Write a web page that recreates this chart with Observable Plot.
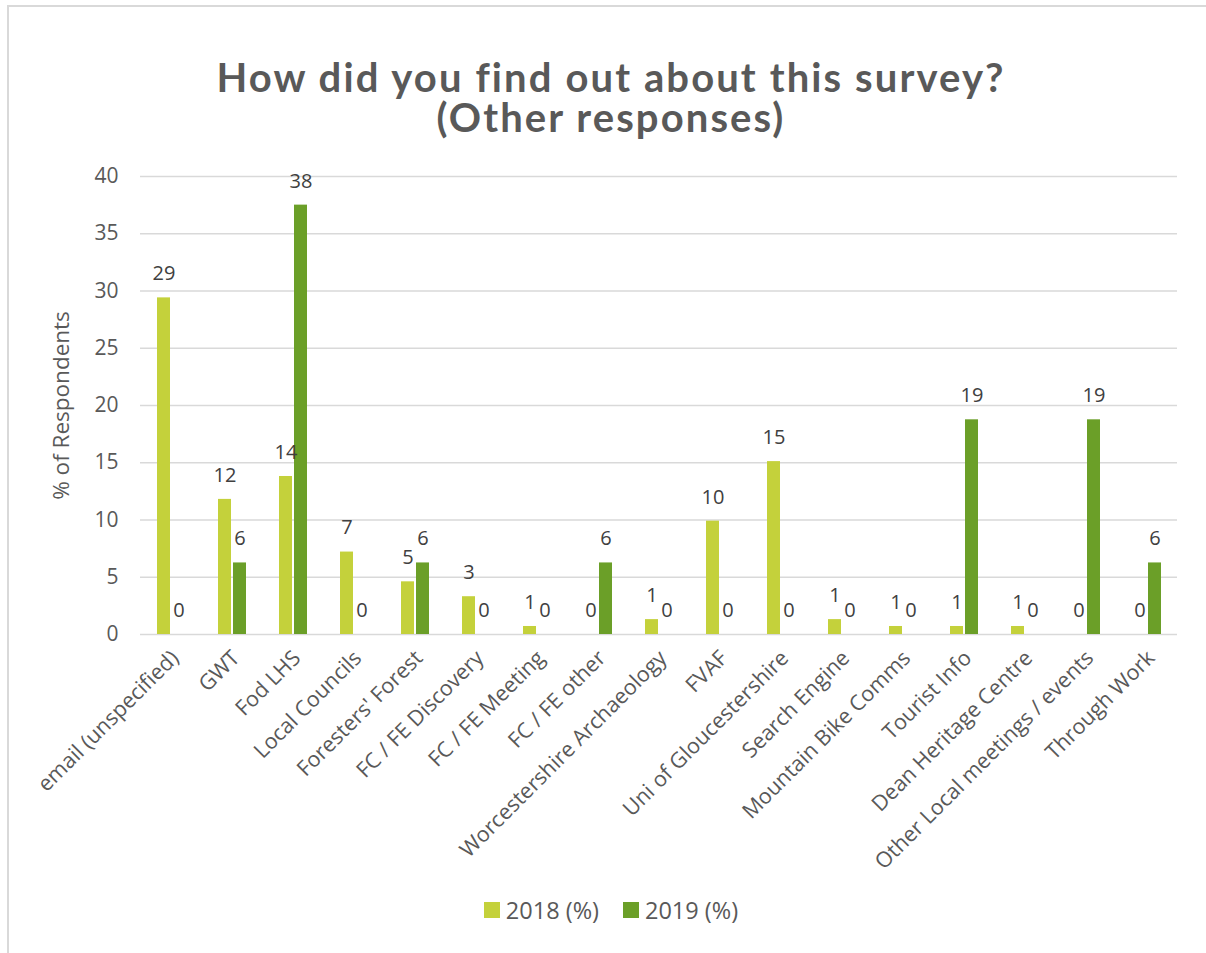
<!DOCTYPE html>
<html>
<head>
<meta charset="utf-8">
<script src="https://cdn.jsdelivr.net/npm/d3@7"></script>
<script src="https://cdn.jsdelivr.net/npm/@observablehq/plot@0.6"></script>
<style>
  html, body { margin: 0; padding: 0; background: #fff; width: 1206px; height: 953px; overflow: hidden; }
  #frame { position: absolute; left: 7px; top: 5px; width: 1300px; height: 1100px;
           border-top: 2px solid #d9d9d9; border-left: 2px solid #d9d9d9; box-sizing: border-box; pointer-events: none; }
  #wrap { position: relative; width: 1206px; }
  #title { height: 150px; box-sizing: border-box; padding-top: 57px; text-align: center; width: 1222px;
           font-family: Lato, "Open Sans", sans-serif; font-weight: bold; font-size: 40px; line-height: 42px;
           letter-spacing: 2.1px; color: #595959; }
  #title div { height: 40px; line-height: 40px; }
  #legend { height: 40px; display: flex; justify-content: center; align-items: center; width: 1222px;
            font-family: "Open Sans", sans-serif; font-size: 23.5px; color: #595959; }
  .item { display: flex; align-items: center; margin: 0 12px; }
  .sw { width: 16px; height: 16px; margin-right: 6px; }
</style>
</head>
<body>
<div id="frame"></div>
<div id="wrap">
  <div id="title"><div>How did you find out about this survey?</div><div>(Other responses)</div></div>
  <div id="chart"></div>
  <div id="legend"></div>
</div>
<script>
const categories = [
  "email (unspecified)", "GWT", "Fod LHS", "Local Councils", "Foresters' Forest",
  "FC / FE Discovery", "FC / FE Meeting", "FC / FE other", "Worcestershire Archaeology",
  "FVAF", "Uni of Gloucestershire", "Search Engine", "Mountain Bike Comms",
  "Tourist Info", "Dean Heritage Centre", "Other Local meetings / events", "Through Work"
];
const seriesNames = ["2018 (%)", "2019 (%)"];
const values2018 = [29.4, 11.8, 13.8, 7.2, 4.6, 3.3, 0.7, 0, 1.3, 9.9, 15.1, 1.3, 0.7, 0.7, 0.7, 0, 0];
const values2019 = [0, 6.25, 37.5, 0, 6.25, 0, 0, 6.25, 0, 0, 0, 0, 0, 18.75, 0, 18.75, 6.25];
const seriesColors = ["#c4d13b", "#6b9f28"];
const yTicks = [0, 5, 10, 15, 20, 25, 30, 35, 40];

const data = [];
categories.forEach((c, i) => {
  data.push({category: c, series: seriesNames[0], value: values2018[i]});
  data.push({category: c, series: seriesNames[1], value: values2019[i]});
});

const chart = Plot.plot({
  width: 1206,
  height: 740,
  marginLeft: 134,
  marginRight: 23,
  marginTop: 26,
  marginBottom: 256,
  style: {fontFamily: "'Open Sans', sans-serif", fontSize: "21px", color: "#595959", background: "transparent"},
  fx: {domain: categories, padding: 0, label: null, axis: null},
  x: {domain: seriesNames, paddingInner: 0, paddingOuter: 1, axis: null},
  y: {domain: [0, 40], ticks: yTicks},
  color: {domain: seriesNames, range: seriesColors},
  marks: [
    Plot.ruleY(yTicks, {stroke: "#d9d9d9", strokeWidth: 1.6}),
    Plot.barY(data, {fx: "category", x: "series", y: "value", fill: "series", insetLeft: 1, insetRight: 1}),
    Plot.text(data, {fx: "category", x: "series", y: "value", text: d => String(Math.round(d.value)),
      dy: -24, fill: "#404040", fontSize: 20}),
    Plot.axisY({ticks: yTicks, tickSize: 0, tickPadding: 22, label: null, fill: "#595959", fontSize: 21}),
    Plot.axisY({ticks: [], tickSize: 0, label: "% of Respondents",
      labelAnchor: "center", labelArrow: "none", labelOffset: 87, fill: "#595959", fontSize: 22.5}),
    Plot.axisFx({anchor: "bottom", tickRotate: -45, tickSize: 0, tickPadding: 20, dx: 4, label: null,
      fill: "#595959", fontSize: 21.5, lineWidth: Infinity, textOverflow: null})
  ]
});
document.getElementById("chart").appendChild(chart);

const legend = document.getElementById("legend");
seriesNames.forEach((s, i) => {
  const item = document.createElement("div");
  item.className = "item";
  const sw = document.createElement("div");
  sw.className = "sw";
  sw.style.background = seriesColors[i];
  item.appendChild(sw);
  const t = document.createElement("span");
  t.textContent = s;
  item.appendChild(t);
  legend.appendChild(item);
});
</script>
</body>
</html>
